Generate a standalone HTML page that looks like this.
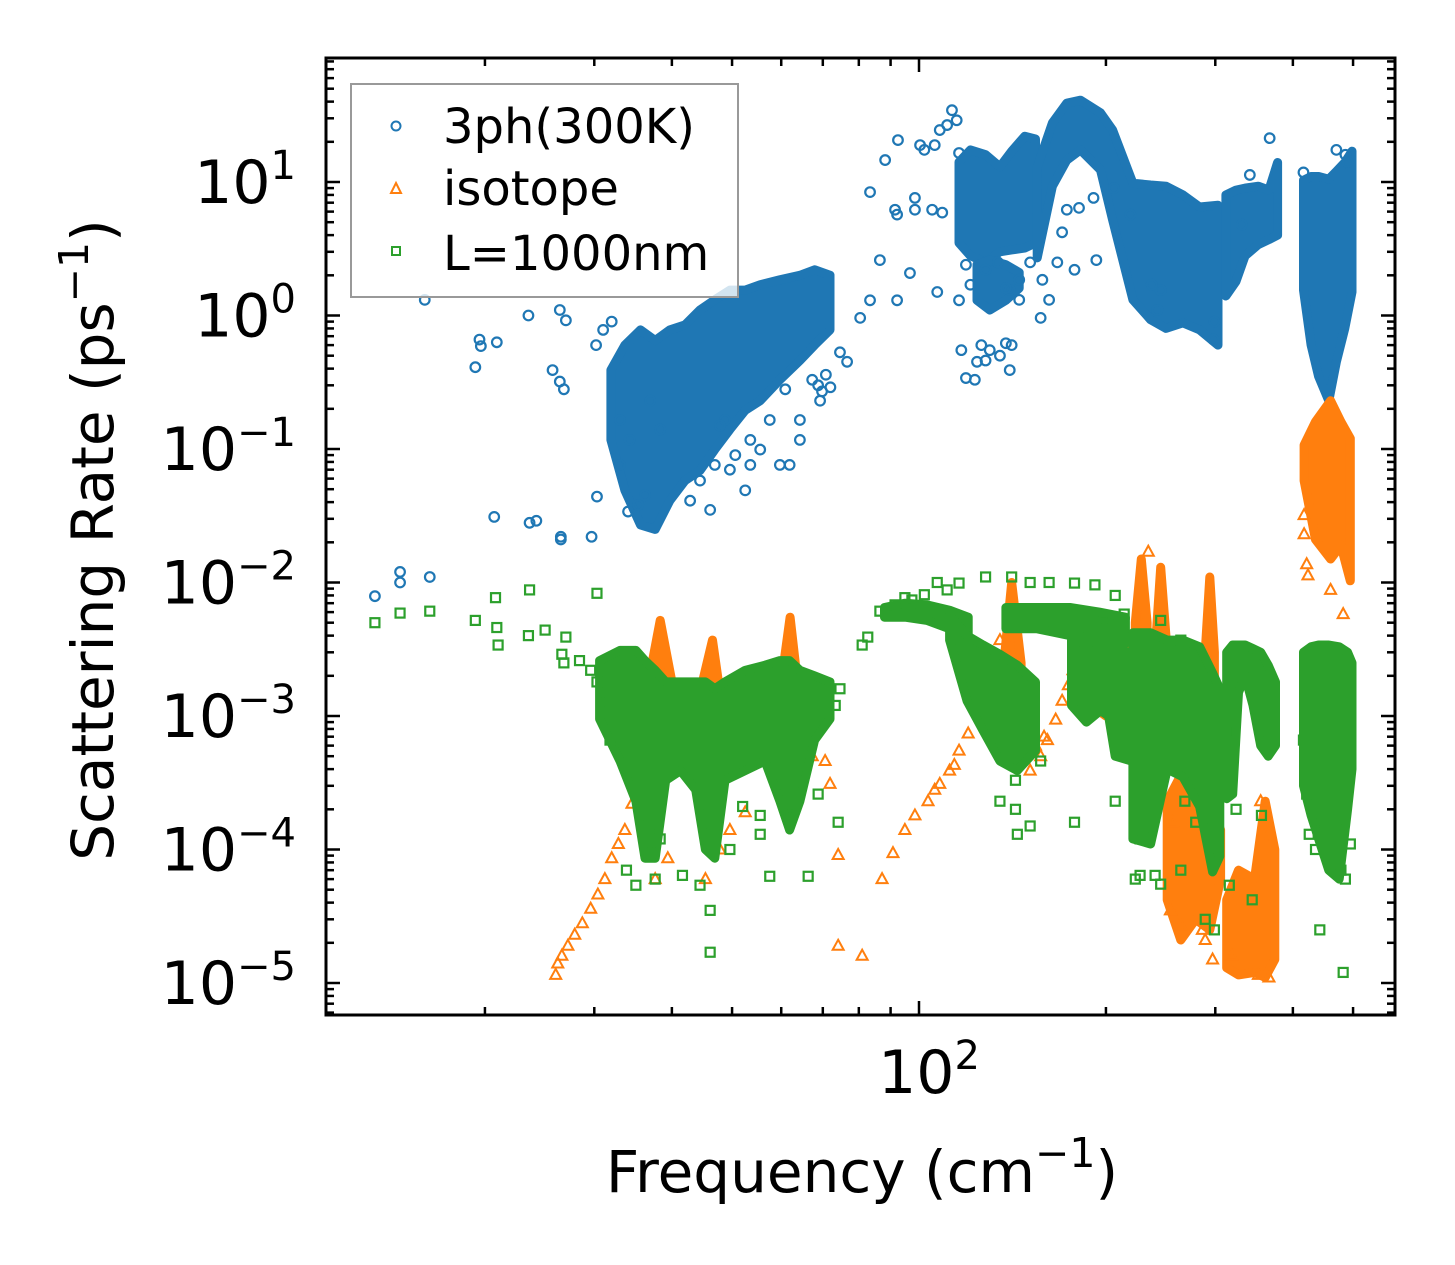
<!DOCTYPE html>
<html><head><meta charset="utf-8"><style>
html,body{margin:0;padding:0;background:#fff;}
svg{display:block;font-family:"DejaVu Sans","Liberation Sans",sans-serif;}
</style></head><body>
<svg id="chart" width="1455" height="1265" viewBox="0 0 1455 1265" xmlns="http://www.w3.org/2000/svg">
<rect width="1455" height="1265" fill="#fff"/>
<g id="series-blue"></g>
<g id="series-orange"></g>
<g id="series-green"></g>
<g id="axes"></g>
<g>
<rect x="351" y="84" width="387" height="213" fill="#fff" fill-opacity="0.8" stroke="#999" stroke-width="2"/>
<circle cx="396" cy="126" r="4.5" fill="none" stroke="#1f77b4" stroke-width="2"/>
<text x="443" y="143" font-size="48">3ph(300K)</text>
<polygon points="396,183 401,193 391,193" fill="none" stroke="#ff7f0e" stroke-width="2"/>
<text x="443" y="205" font-size="48">isotope</text>
<rect x="392" y="247" width="8" height="8" fill="none" stroke="#2ca02c" stroke-width="2"/>
<text x="443" y="270" font-size="48">L=1000nm</text>
</g>
<text x="862" y="1192" font-size="58" text-anchor="middle">Frequency (cm<tspan font-size="41" dy="-25">−1</tspan><tspan dy="25">)</tspan></text>
<text transform="translate(113,540) rotate(-90)" font-size="58" text-anchor="middle">Scattering Rate (ps<tspan font-size="41" dy="-25">−1</tspan><tspan dy="25">)</tspan></text>
</svg>
<script>
// ---- data (frequency in cm^-1, rate in ps^-1) ----
const blueScatter = [[13.3,0.0079],[14.6,0.012],[14.6,0.0100],[16.3,0.011],[16.0,1.31],[19.3,0.41],[19.6,0.66],[19.7,0.59],[20.9,0.63],[20.7,0.031],[23.5,1.0],[23.6,0.028],[24.2,0.029],[26.5,0.022],[26.5,0.021],[26.4,0.32],[25.7,0.39],[26.8,0.28],[27.0,0.92],[26.4,1.1],[29.7,0.022],[30.3,0.044],[30.2,0.60],[31,0.78],[32,0.9],[33,0.165],[34,0.034],[33,0.076],[34.2,0.117],[35.3,0.038],[36.2,0.045],
[74.6,0.53],[76.6,0.45],[72,0.29],[68.8,0.30],[69.8,0.27],[70.8,0.36],[80.4,0.96],[83.4,1.3],[86.5,2.6],[92.2,1.3],[96.7,2.08],[83.4,8.4],[88.2,14.6],[92.5,20.6],[91.5,6.2],[92.2,5.7],[98.5,7.6],[98.5,6.2],[106,18.9],[100.4,18.9],[102,17.4],[108,24.5],[111,26.7],[113,34.5],[115,29],[116,16.5],[105,6.2],[109,5.9],[107,1.5],[117,0.55],[119,0.34],[123,0.33],[126,0.6],[130,0.55],[135,0.5],[138,0.62],[140,0.39],[141,0.6],[128,0.46],[124,0.45],[157,0.96],[158,1.85],[162,1.31],[167,2.5],[178,2.2],[170,4.2],[173,6.2],[181,6.4],[193,2.6],[191,7.6],[206,9.0],[219,5.7],[116,1.3],[119,2.4],[121,1.7],[128,2.2],[134,2.5],[140,1.55],[145,1.85],[151,2.5],[145,1.31],[138,1.6],[299,0.9],[298,0.66],[242,1.1],[245,1.55],[237,1.7],[470,17.4],[490,14.1],[416,11.8],[367,21.3],[341,11.3],[331,4.8],[486,16],
[44.4,0.058],[46.9,0.076],[49.6,0.070],[52.5,0.049],[53.5,0.076],[55.5,0.099],[59.7,0.076],[61.9,0.076],[64.3,0.117],[67.3,0.33],[53.5,0.117],[48.7,0.165],[42.8,0.041],[46.1,0.035],[38.3,0.14],[36.9,0.23],[47.8,0.15],[57.5,0.165],[60.9,0.28],[69.3,0.23],[64.3,0.165],[50.6,0.09]];
// dense regions: [frequency, upper rate, lower rate]
const blueBand1 = [[31.9,0.39,0.117],[33.6,0.60,0.049],[35.6,0.78,0.027],[37.6,0.65,0.025],[39.7,0.78,0.041],[42.0,0.85,0.058],[44.4,1.1,0.069],[46.9,1.31,0.099],[49.6,1.55,0.14],[52.5,1.55,0.195],[55.5,1.7,0.23],[59.7,1.85,0.33],[64.3,2.0,0.46],[67.9,2.2,0.6],[71.9,2.0,0.78]];
const blueBand2 = [[116,14.1,3.5],[121,17.4,2.8],[128,16,2.5],[135,13,3.0],[141,17,3.1],[148,22,3.2],[154,21,3.5]];
const blueBand3 = [[124,2.4,1.3],[130,2.6,1.1],[138,2.4,1.3],[145,2.1,1.6]];
const blueBand4 = [[155,12.9,2.7],[164,27.7,9.3],[173,39,14.6],[182,41,17.4],[196,33,12.3],[205,24.5,5.2],[221,9.8,1.31],[236,9.5,0.93],[250,9.3,0.8],[266,8,0.88],[283,6.5,0.78],[303,6.7,0.6]];
const blueBand5 = [[312,8.0,1.4],[324,8.7,1.8],[335,9.0,2.8],[352,9.3,3.4],[366,8.7,3.7],[378,14,4.0]];
const blueBand6 = [[416,10.3,1.55],[428,11,0.6],[440,11,0.35],[457,10.5,0.23],[470,12,0.45],[485,14,0.8],[498,17,1.5]];

const orangeScatter = [[26.0,1.15e-5],[26.2,1.4e-5],[26.6,1.6e-5],[27.2,1.9e-5],[27.9,2.3e-5],[28.7,2.8e-5],[29.6,3.6e-5],[30.4,4.6e-5],[31.2,6.0e-5],[32.0,8.6e-5],[32.8,1.1e-4],[33.6,1.4e-4],[34.5,2.2e-4],[35.6,3.1e-4],[36.7,4.6e-4],[37.6,7.2e-4],[38.3,9.3e-4],[39.1,1.3e-3],
[35.6,2.3e-4],[36.7,1.4e-4],[39.4,8.6e-5],[37.6,6.0e-5],[49.6,1.4e-4],[47.8,1.0e-4],[52.5,1.9e-4],[70.6,4.6e-4],[71.9,3.1e-4],[74.1,9.1e-5],[74.1,1.9e-5],[81,1.6e-5],[67.3,5e-4],[45.3,6e-5],
[87.2,6e-5],[90.8,9.4e-5],[94.9,1.4e-4],[98.5,1.8e-4],[103.4,2.3e-4],[108,3.1e-4],[112,3.9e-4],[116,5.5e-4],[120,7.4e-4],[124,1.3e-3],[130,1.9e-3],[135,3.7e-3],[106,2.8e-4],[114,4.3e-4],[128,1.6e-3],
[151,3.9e-4],[157,5e-4],[161,6.6e-4],[166,9.4e-4],[170,1.3e-3],[174,1.7e-3],[177,2.2e-3],[154,6e-4],[159,7e-4],
[417,0.032],[417,0.023],[421,0.0137],[423,0.0113],[460,0.0088],[482,0.0058],[234,0.017],[264,2.7e-5],[254,3.5e-5],[289,2.1e-5],[297,1.5e-5],[286,2.5e-5],[352,1.15e-5],[366,1.1e-5],[319,1.6e-5],[366,1.4e-4],[355,2.3e-4],[256,1.6e-4],[276,2.3e-4]];
const orangeBand1 = [[36.2,1.3e-3,3.3e-4],[38.3,5.2e-3,4.6e-4],[40,1.8e-3,4.6e-4]];
const orangeBand2 = [[44.4,1.5e-3,3.5e-4],[46.5,3.7e-3,2.3e-4],[48,1.3e-3,3.5e-4]];
const orangeBand3 = [[59.7,1.5e-3,4.6e-4],[62,5.5e-3,3.3e-4],[64,1.5e-3,4.6e-4]];
const orangeBand4 = [[137,2.5e-3,1e-3],[141,1.0e-2,6e-4],[146,2.5e-3,8e-4]];
const orangeBand5 = [[223,5e-3,9e-4],[228,1.5e-2,7e-4],[233,5e-3,9e-4]];
const orangeBand6 = [[240,3e-3,8e-4],[245,1.3e-2,8e-4],[251,3e-3,8e-4]];
const orangeBand7 = [[289,3e-3,5e-4],[294,1.1e-2,2.7e-4],[299,3e-3,5e-4]];
const orangeBand8 = [[251,2.3e-4,4.2e-5],[264,3.6e-4,2.1e-5],[279,3.3e-4,3e-5],[294,2.3e-4,2.5e-5],[306,1.4e-4,6e-5]];
const orangeBand9 = [[313,4.2e-5,1.3e-5],[327,7e-5,1.15e-5],[347,6e-5,1.2e-5],[361,2.3e-4,1.1e-5],[374,1e-4,1.5e-5]];
const orangeBand10 = [[417,0.107,0.058],[435,0.16,0.021],[460,0.23,0.015],[478,0.16,0.019],[495,0.12,0.0103]];
const orangeBand11 = [[185,3.5e-3,1.3e-3],[200,2.5e-3,1.0e-3],[218,4e-3,1.2e-3]];

const greenScatter = [[13.3,5.0e-3],[14.6,5.9e-3],[16.3,6.1e-3],[19.3,5.2e-3],[20.9,4.6e-3],[21,3.4e-3],[20.8,7.7e-3],[23.6,8.8e-3],[23.5,4.0e-3],[25,4.4e-3],[26.6,2.9e-3],[26.8,2.5e-3],[30.3,8.3e-3],[27,3.9e-3],[28.4,2.6e-3],[29.6,2.2e-3],[30.3,1.8e-3],[31.2,1.3e-3],[33,1.6e-3],[31.8,6.6e-4],[35,1.1e-3],
[33.8,7e-5],[35,5.4e-5],[37.6,6e-5],[41.6,6.4e-5],[44.4,5.4e-5],[46.1,3.5e-5],[46.1,1.7e-5],[49.6,1e-4],[55.5,1.3e-4],[57.5,6.3e-5],[66.3,6.3e-5],[74.1,1.6e-4],[68.8,2.6e-4],[73.3,1.2e-3],[74.6,1.6e-3],[36.9,9.4e-5],[38.3,1.2e-4],[52,2.1e-4],[55.5,1.8e-4],[61.9,1.8e-4],
[81,3.4e-3],[82.7,3.9e-3],[86.5,6.1e-3],[91.5,6.8e-3],[94.9,7.7e-3],[97.4,7.4e-3],[102,8.1e-3],[107,1e-2],[111,8.8e-3],[116,9.9e-3],[128,1.1e-2],[141,1.1e-2],[151,1.0e-2],[162,1.0e-2],[178,9.9e-3],[192,9.6e-3],[207,8e-3],[199,5.2e-3],[214,5.8e-3],[245,5.2e-3],[264,3.7e-3],
[135,2.3e-4],[143,2e-4],[144,1.3e-4],[151,1.5e-4],[143,3.3e-4],[157,4.6e-4],[178,1.6e-4],[207,2.3e-4],[227,1.2e-4],[227,6.4e-5],[223,6e-5],[240,6.4e-5],[245,5.5e-5],[264,7e-5],[279,1.6e-4],[268,2.3e-4],[289,3e-5],[299,2.5e-5],[316,5.4e-5],[344,4.2e-5],[356,1.8e-4],[324,2e-4],[442,2.5e-5],[482,1.2e-5],
[425,1.3e-4],[435,1e-4],[442,1.6e-4],[478,7e-5],[486,6e-5],[495,1.1e-4],[421,2.6e-4],[481,1.4e-4],[416,6.6e-4]];
const greenBand1 = [[30.6,2.6e-3,9.5e-4],[33,3.1e-3,4.6e-4],[35,3.1e-3,2.3e-4],[36.2,2.6e-3,8.6e-5],[37.6,2.2e-3,8.6e-5],[39.1,1.8e-3,3.3e-4],[41.3,1.8e-3,3.9e-4],[43.7,1.8e-3,2.8e-4],[45.3,1.8e-3,1e-4],[46.9,1.6e-3,8.6e-5],[48.7,1.8e-3,3.3e-4],[52.5,2.2e-3,3.9e-4],[56.5,2.4e-3,4.6e-4],[59.7,2.6e-3,2.3e-4],[61.9,2.6e-3,1.4e-4],[64.3,2.2e-3,2.3e-4],[67.9,2.0e-3,6.6e-4],[71.9,1.8e-3,9.5e-4]];
const greenBand2 = [[88,6.5e-3,5.5e-3],[95,7e-3,5.5e-3],[103,6.8e-3,5.2e-3],[112,6.2e-3,4.5e-3],[120,5.5e-3,3.8e-3]];
const greenBand3 = [[112,5.7e-3,3.7e-3],[119.5,4.0e-3,1.3e-3],[126.8,3.4e-3,7.8e-4],[135,2.9e-3,4.6e-4],[144,2.4e-3,3.9e-4],[154,1.8e-3,5.5e-4]];
const greenBand4 = [[138,6.5e-3,4.5e-3],[155,6.5e-3,4.5e-3],[175,6.5e-3,4e-3],[195,6e-3,3.8e-3],[215,5.5e-3,3.5e-3]];
const greenBand5 = [[176,3.7e-3,1.2e-3],[186,3.5e-3,9e-4],[196,3.7e-3,1.1e-3],[202,3.3e-3,1e-3],[207,3.1e-3,5e-4],[220,3e-3,4.6e-4]];
const greenBand6 = [[221,4.2e-3,1.2e-4],[236,4.2e-3,1.1e-4],[251,3.7e-3,4.0e-4],[266,3.7e-3,3.5e-4],[283,3.3e-3,2.1e-4],[297,2.1e-3,6.8e-5],[305,1.6e-3,8.9e-5]];
const greenBand7 = [[313,3.0e-3,2.4e-4],[320,3.4e-3,2.6e-4],[327,3.4e-3,1.5e-3],[335,3.4e-3,2.0e-3],[345,3.2e-3,1.2e-3],[355,3.0e-3,6e-4],[365,2.4e-3,5e-4],[375,1.8e-3,6e-4]];
const greenBand8 = [[416,3.0e-3,3e-4],[428,3.3e-3,1.8e-4],[440,3.4e-3,1.2e-4],[457,3.4e-3,7e-5],[475,3.3e-3,6e-5],[490,3.0e-3,2e-4],[498,2.5e-3,4e-4]];

const yTickExps = [1,0,-1,-2,-3,-4,-5];
const yTickLabels = ["1","0","−1","−2","−3","−4","−5"];
const xMajorTicks = [100];
const xMajorLabels = ["2"];
const xMinorTicks = [20,30,40,50,60,70,80,90,200,300,400,500];

// ---- axis functions ----
const PL=326, PR=1395, PT=58, PB=1015;
function X(f){ return 919 + 621*Math.log10(f/100); }
function Y(r){ return 182 - 133.5*Math.log10(r/10); }
const NS="http://www.w3.org/2000/svg";
function mk(tag, attrs, parent){ const e=document.createElementNS(NS,tag); for(const k in attrs) e.setAttribute(k,attrs[k]); parent.appendChild(e); return e; }

function drawBand(g, band, color, name){
  let d="";
  band.forEach((p,i)=>{ d += (i?"L":"M")+X(p[0]).toFixed(1)+","+Y(p[1]).toFixed(1); });
  for(let i=band.length-1;i>=0;i--){ const p=band[i]; d += "L"+X(p[0]).toFixed(1)+","+Y(p[2]).toFixed(1); }
  d+="Z";
  const e=mk("path",{d:d,fill:color,stroke:color,"stroke-width":9,"stroke-linejoin":"round"},g);
  
  
}
function drawCircles(g, pts, color){
  pts.forEach(p=>{ const e=mk("circle",{cx:X(p[0]),cy:Y(p[1]),r:4.8,fill:"none",stroke:color,"stroke-width":2.2},g);
    
     });
}
function drawTriangles(g, pts, color){
  pts.forEach(p=>{ const x=X(p[0]), y=Y(p[1]);
    const e=mk("polygon",{points:`${x},${y-6} ${x+5.5},${y+4} ${x-5.5},${y+4}`,fill:"none",stroke:color,"stroke-width":2},g);
    
     });
}
function drawSquares(g, pts, color){
  pts.forEach(p=>{ const x=X(p[0]), y=Y(p[1]);
    const e=mk("rect",{x:x-4.5,y:y-4.5,width:9,height:9,fill:"none",stroke:color,"stroke-width":2.2},g);
    
     });
}

const gB=document.getElementById("series-blue"), gO=document.getElementById("series-orange"), gG=document.getElementById("series-green");
const BC="#1f77b4", OC="#ff7f0e", GC="#2ca02c";
[blueBand1,blueBand2,blueBand3,blueBand4,blueBand5,blueBand6].forEach(b=>drawBand(gB,b,BC,"dense-region-3ph"));
drawCircles(gB, blueScatter, BC);
[orangeBand1,orangeBand2,orangeBand3,orangeBand4,orangeBand5,orangeBand6,orangeBand7,orangeBand8,orangeBand9,orangeBand10,orangeBand11].forEach(b=>drawBand(gO,b,OC,"dense-region-isotope"));
drawTriangles(gO, orangeScatter, OC);
[greenBand1,greenBand2,greenBand3,greenBand4,greenBand5,greenBand6,greenBand7,greenBand8].forEach(b=>drawBand(gG,b,GC,"dense-region-l1000nm"));
drawSquares(gG, greenScatter, GC);

// clip series to plot area
const defs=mk("defs",{},document.getElementById("chart"));
const cp=mk("clipPath",{id:"plotclip"},defs);
mk("rect",{x:PL,y:PT,width:PR-PL,height:PB-PT},cp);
[gB,gO,gG].forEach(g=>g.setAttribute("clip-path","url(#plotclip)"));

// ---- axes ----
const gA=document.getElementById("axes");
const frame=mk("rect",{x:PL,y:PT,width:PR-PL,height:PB-PT,fill:"none",stroke:"#000","stroke-width":3},gA);


function tickY(y,len){ mk("line",{x1:PL,y1:y,x2:PL+len,y2:y,stroke:"#000","stroke-width":2.5},gA); mk("line",{x1:PR,y1:y,x2:PR-len,y2:y,stroke:"#000","stroke-width":2.5},gA); }
function tickX(x,len){ mk("line",{x1:x,y1:PB,x2:x,y2:PB-len,stroke:"#000","stroke-width":2.5},gA); mk("line",{x1:x,y1:PT,x2:x,y2:PT+len,stroke:"#000","stroke-width":2.5},gA); }
for(let e=-6;e<=2;e++){
  for(let m=1;m<10;m++){
    const y=Y(m*Math.pow(10,e));
    if(y<PT+1||y>PB-1) continue;
    tickY(y, m===1?14:8);
  }
}
yTickExps.forEach((e,i)=>{
  const y=Y(Math.pow(10,e));
  const t=mk("text",{x:296,y:y+21,"font-size":60,"text-anchor":"end"},gA);
  t.textContent="10";
  const s=mk("tspan",{dy:-24,"font-size":40},t); s.textContent=yTickLabels[i];
  
  
});
xMinorTicks.forEach(f=>tickX(X(f),8));
xMajorTicks.forEach((f,i)=>{
  const x=X(f); tickX(x,14);
  const t=mk("text",{x:x+10,y:1093,"font-size":60,"text-anchor":"middle"},gA);
  t.textContent="10";
  const s=mk("tspan",{dy:-24,"font-size":40},t); s.textContent=xMajorLabels[i];
  
  
});
</script>
</body></html>
